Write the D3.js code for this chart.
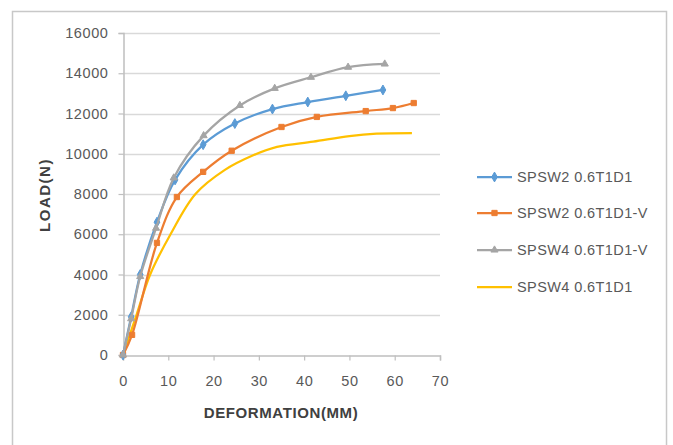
<!DOCTYPE html>
<html>
<head>
<meta charset="utf-8">
<script src="https://cdn.jsdelivr.net/npm/d3@7"></script>
<style>
  html, body { margin: 0; padding: 0; background: #fff; }
  svg { display: block; }
</style>
</head>
<body>
<svg id="chart" width="673" height="445"></svg>
<script>
// Load–deformation curves of steel plate shear wall specimens
const xTicks = [0, 10, 20, 30, 40, 50, 60, 70];
const yTicks = [0, 2000, 4000, 6000, 8000, 10000, 12000, 14000, 16000];

const seriesNames = ["SPSW2 0.6T1D1", "SPSW2 0.6T1D1-V", "SPSW4 0.6T1D1-V", "SPSW4 0.6T1D1"];
const seriesColors = ["#5B9BD5", "#ED7D31", "#A5A5A5", "#FFC000"];
const seriesMarkers = ["diamond", "square", "triangle", "none"];

// deformation (mm), load (N)
const spsw2 = [[0,0],[1.8,1900],[3.8,4000],[7.5,6600],[11.5,8700],[17.7,10450],[24.7,11500],[33,12220],[40.8,12570],[49.2,12880],[57.4,13170]];
const spsw2v = [[0,0],[2,1000],[7.5,5570],[11.9,7850],[17.7,9100],[24,10150],[35,11330],[42.8,11830],[53.6,12120],[59.6,12270],[64.2,12520]];
const spsw4v = [[0,0],[1.8,1800],[3.8,3900],[7.3,6300],[11.2,8800],[17.8,10900],[25.8,12400],[33.5,13250],[41.5,13800],[49.7,14300],[57.8,14460]];
const spsw4 = [[0,0],[1.5,1000],[3,2000],[6,4000],[10.5,6000],[16,8000],[22.5,9200],[28.5,9900],[34,10340],[42,10600],[50,10880],[56,11000],[63.8,11030]];
const seriesData = [spsw2, spsw2v, spsw4v, spsw4];

const svg = d3.select("#chart");
const font = "'Liberation Sans', Arial, sans-serif";

// chart frame
svg.append("rect").attr("x", 12.5).attr("y", 11.5).attr("width", 654).attr("height", 445)
  .attr("fill", "#fff").attr("stroke", "#c8c8c8").attr("stroke-width", 1.5);

const plot = { left: 123, right: 440, top: 33, bottom: 355 };
const x = d3.scaleLinear().domain([0, 70]).range([plot.left, plot.right]);
const y = d3.scaleLinear().domain([0, 16000]).range([plot.bottom, plot.top]);

// horizontal gridlines
svg.append("g").selectAll("line").data(yTicks.filter(v => v > 0)).join("line")
  .attr("x1", plot.left).attr("x2", plot.right)
  .attr("y1", d => Math.round(y(d)) + 0.5).attr("y2", d => Math.round(y(d)) + 0.5)
  .attr("stroke", "#d9d9d9").attr("stroke-width", 1.5);

// axes
const xAxis = svg.append("g").attr("transform", `translate(0,${plot.bottom + 0.5})`)
  .call(d3.axisBottom(x).tickValues(xTicks).tickSize(5).tickPadding(15).tickFormat(d3.format("d")));
const yAxis = svg.append("g").attr("transform", `translate(${plot.left + 0.5},0)`)
  .call(d3.axisLeft(y).tickValues(yTicks).tickSize(5).tickPadding(10).tickFormat(d3.format("d")));
[xAxis, yAxis].forEach(g => {
  g.select(".domain").attr("stroke", "#bfbfbf").attr("stroke-width", 1.5);
  g.selectAll(".tick line").attr("stroke", "#bfbfbf").attr("stroke-width", 1.2);
  g.selectAll(".tick text").attr("fill", "#595959").attr("font-family", font)
    .attr("font-size", 14.5).attr("letter-spacing", 0.6);
});

// axis titles
svg.append("text").attr("x", 281).attr("y", 418).attr("text-anchor", "middle")
  .attr("font-family", font).attr("font-weight", "bold").attr("font-size", 15).attr("fill", "#404040")
  .attr("letter-spacing", 0.6).text("DEFORMATION(MM)");
svg.append("text").attr("transform", "translate(50,195) rotate(-90)").attr("text-anchor", "middle")
  .attr("font-family", font).attr("font-weight", "bold").attr("font-size", 15).attr("fill", "#404040")
  .attr("letter-spacing", 1.5).text("LOAD(N)");

const line = d3.line().x(d => x(d[0])).y(d => y(d[1])).curve(d3.curveCatmullRom.alpha(0.5));

function marker(sel, type, color, size) {
  if (type === "none") return sel;
  const sym = type === "diamond" ? d3.symbolDiamond : type === "square" ? d3.symbolSquare : d3.symbolTriangle;
  return sel.append("path").attr("d", d3.symbol().type(sym).size(size)())
    .attr("fill", color).attr("stroke", color).attr("stroke-width", 1);
}

// yellow first so the marked series stay on top
const drawOrder = [3, 1, 0, 2];
drawOrder.forEach(i => {
  const g = svg.append("g");
  g.append("path").datum(seriesData[i]).attr("d", line)
    .attr("fill", "none").attr("stroke", seriesColors[i]).attr("stroke-width", 2.25)
    .attr("stroke-linejoin", "round");
  if (seriesMarkers[i] !== "none") {
    seriesData[i].forEach(p => {
      const m = g.append("g").attr("transform", `translate(${x(p[0])},${y(p[1])})`);
      marker(m, seriesMarkers[i], seriesColors[i], seriesMarkers[i] === "triangle" ? 22 : 28);
    });
  }
});

// legend
const legendY = [177, 213, 250, 287];
seriesNames.forEach((name, i) => {
  const g = svg.append("g").attr("transform", `translate(477,${legendY[i]})`);
  g.append("line").attr("x1", 0).attr("x2", 35).attr("y1", 0).attr("y2", 0)
    .attr("stroke", seriesColors[i]).attr("stroke-width", 2.25);
  const m = g.append("g").attr("transform", "translate(17.5,0)");
  marker(m, seriesMarkers[i], seriesColors[i], seriesMarkers[i] === "triangle" ? 22 : 28);
  g.append("text").attr("x", 40).attr("y", 0).attr("dy", "0.35em")
    .attr("font-family", font).attr("font-size", 14.5).attr("fill", "#595959")
    .attr("letter-spacing", 0.4).text(name);
});
</script>
</body>
</html>
